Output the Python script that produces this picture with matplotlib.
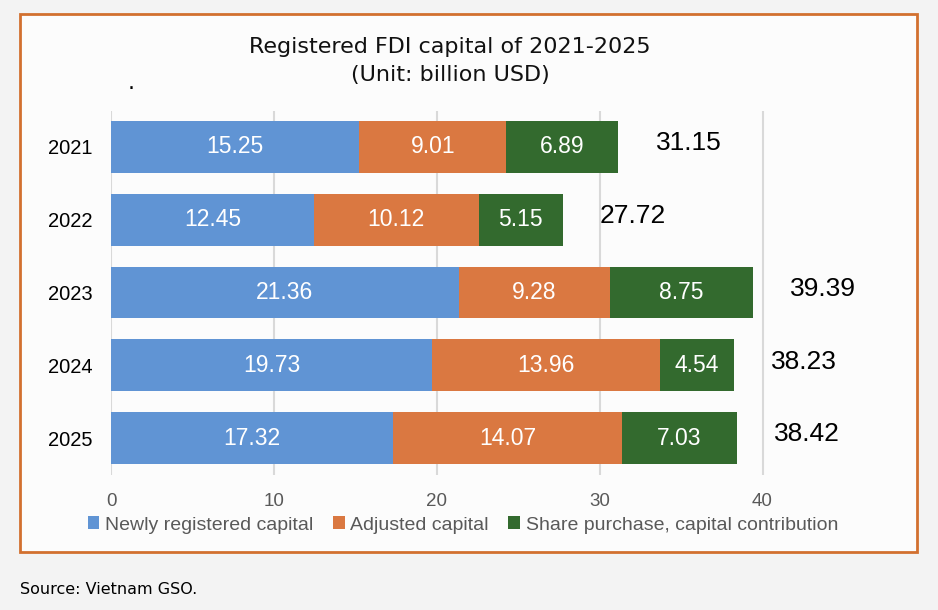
import matplotlib
matplotlib.use("Agg")
from matplotlib import pyplot as plt
from matplotlib.patches import Rectangle
import numpy as np

# ----------------------------------------
# Data
# ----------------------------------------
years = ["2021", "2022", "2023", "2024", "2025"]
newly_registered = [15.25, 12.45, 21.36, 19.73, 17.32]
adjusted = [9.01, 10.12, 9.28, 13.96, 14.07]
share_purchase = [6.89, 5.15, 8.75, 4.54, 7.03]
totals = [31.15, 27.72, 39.39, 38.23, 38.42]

series_names = ["Newly registered capital", "Adjusted capital",
                "Share purchase, capital contribution"]
colors = ["#6094D4", "#DA7841", "#336A2E"]

W, H = 938, 610
fig = plt.figure(figsize=(W / 100, H / 100), dpi=100)
fig.patch.set_facecolor("#f3f3f3")

# ----------------------------------------
# Orange frame around the chart
# ----------------------------------------
fig.patches.append(Rectangle((20 / W, 1 - 552 / H), (917 - 20) / W, (552 - 14) / H,
                             transform=fig.transFigure, facecolor="#fcfcfc",
                             edgecolor="#D2702F", linewidth=2, zorder=-10))

ax = fig.add_axes([111 / W, 1 - 474.5 / H, (844 - 111) / W, (474.5 - 110.5) / H])
ax.set_facecolor("none")
ax.set_zorder(1)

y = np.arange(len(years))
left = np.zeros(len(years))
for vals, name, col in zip([newly_registered, adjusted, share_purchase],
                           series_names, colors):
    bars = ax.barh(y, vals, left=left, height=0.71, color=col, label=name, zorder=3)
    for b, v in zip(bars, vals):
        ax.text(b.get_x() + b.get_width() / 2, b.get_y() + b.get_height() / 2,
                f"{v:.2f}", ha="center", va="center", color="white",
                fontsize=16.5, family="Liberation Sans", zorder=4)
    left += np.array(vals)

for yi, t in zip(y, totals):
    ax.text(t + 2.3, yi - 0.05, f"{t:.2f}", ha="left", va="center",
            color="black", fontsize=19, family="Liberation Sans")

ax.set_xlim(0, 45)
ax.set_ylim(len(years) - 0.5, -0.5)
ax.set_xticks([0, 10, 20, 30, 40])
ax.set_yticks(y)
ax.set_yticklabels(years, fontsize=14.5, family="Liberation Sans", color="black")
ax.tick_params(axis="x", length=0, pad=13, labelsize=13.5, labelcolor="#595959")
ax.tick_params(axis="y", length=0, pad=13)
for lbl in ax.get_xticklabels():
    lbl.set_family("Liberation Sans")
ax.grid(axis="x", color="#d9d9d9", linewidth=1.5, zorder=0)
for s in ax.spines.values():
    s.set_visible(False)

# ----------------------------------------
# Title, legend, source
# ----------------------------------------
fig.text(450 / W, 1 - 47 / H, "Registered FDI capital of 2021-2025",
         ha="center", va="center", fontsize=16, family="DejaVu Sans", color="#111111")
fig.text(450 / W, 1 - 75 / H, "(Unit: billion USD)",
         ha="center", va="center", fontsize=16, family="DejaVu Sans", color="#111111")
fig.text(128 / W, 1 - 89 / H, ".", ha="left", va="baseline", fontsize=16, color="black")

fig.legend(loc="center", bbox_to_anchor=(463 / W, 1 - 525 / H), ncol=3,
           frameon=False, handlelength=0.6, handleheight=0.6, handletextpad=0.3,
           columnspacing=1.0,
           prop={"family": "Liberation Sans", "size": 14}, labelcolor="#595959")

fig.text(20 / W, 1 - 590 / H, "Source: Vietnam GSO.", ha="left", va="center",
         fontsize=11.5, family="DejaVu Sans", color="black")

fig.savefig("out.png", dpi=100, facecolor=fig.get_facecolor())
